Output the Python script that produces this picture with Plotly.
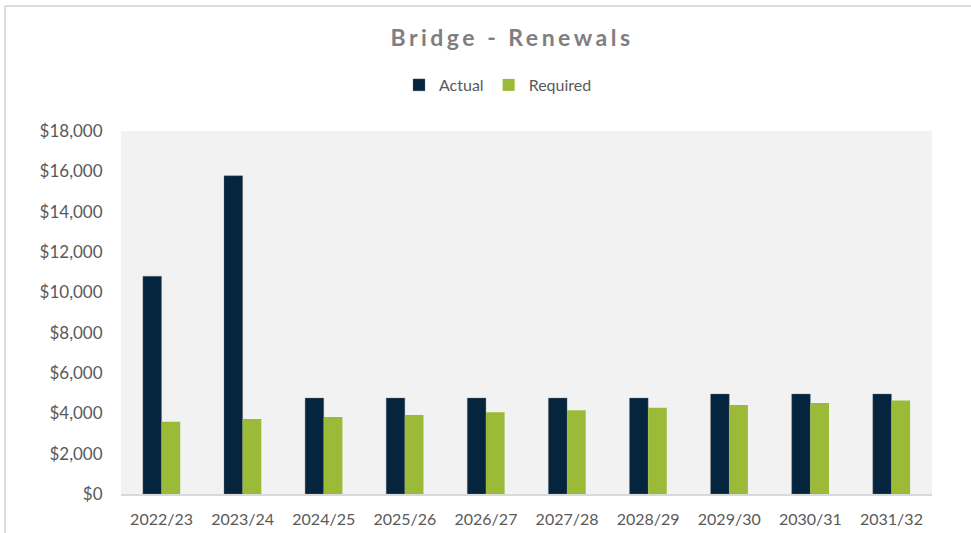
import plotly.graph_objects as go

categories = ["2022/23", "2023/24", "2024/25", "2025/26", "2026/27",
              "2027/28", "2028/29", "2029/30", "2030/31", "2031/32"]
actual = [10800, 15780, 4760, 4760, 4760, 4760, 4760, 4960, 4960, 4960]
required = [3580, 3720, 3820, 3920, 4050, 4150, 4280, 4410, 4510, 4640]
y_ticks = [0, 2000, 4000, 6000, 8000, 10000, 12000, 14000, 16000, 18000]

FONT = "Lato"
TXT = "#595959"
W, H = 971, 533
PL, PR, PT, PB = 121, 932, 131, 494  # plot area in px
PW, PH = PR - PL, PB - PT

def px_x(x):
    return (x - PL) / PW

def px_y(y):
    return (PB - y) / PH

fig = go.Figure()
fig.add_trace(go.Bar(name="Actual", x=categories, y=actual,
                     marker=dict(color="#05243d", line=dict(color="rgba(120,120,120,0.35)", width=1))))
fig.add_trace(go.Bar(name="Required", x=categories, y=required,
                     marker=dict(color="#9bbb38", line=dict(width=0))))

fig.update_layout(
    width=W, height=H,
    margin=dict(l=PL, r=W - PR, t=PT, b=H - PB),
    paper_bgcolor="white",
    plot_bgcolor="#f2f2f2",
    barmode="group", bargap=0.54, bargroupgap=0,
    font=dict(family=FONT, size=16, color=TXT),
    title=dict(text='<b><span style="letter-spacing:3.5px">Bridge - Renewals</span></b>',
               x=512 / W, xanchor="center",
               y=1 - 38 / H, yanchor="middle",
               font=dict(family=FONT, size=23, color="#7f7f7f")),
    legend=dict(orientation="h", x=px_x(399), xanchor="left", y=px_y(85), yanchor="middle",
                font=dict(family=FONT, size=16, color=TXT), itemwidth=30,
                traceorder="normal"),
    showlegend=True,
)
fig.update_xaxes(showgrid=False, showline=True, linecolor="#d9d9d9", linewidth=2,
                 ticks="outside", ticklen=10, tickcolor="rgba(0,0,0,0)", automargin=False,
                 tickfont=dict(family=FONT, size=16, color=TXT))
fig.update_yaxes(range=[0, 18000], tickvals=y_ticks, tickformat="$,",
                 showgrid=False, zeroline=False, showline=False, automargin=False,
                 ticks="outside", ticklen=14, tickcolor="rgba(0,0,0,0)",
                 tickfont=dict(family=FONT, size=17, color=TXT))

# chart frame: top and left edges only
fig.add_shape(type="line", xref="paper", yref="paper",
              x0=px_x(5), x1=px_x(971), y0=px_y(6), y1=px_y(6),
              line=dict(color="#dcdcdc", width=2))
fig.add_shape(type="line", xref="paper", yref="paper",
              x0=px_x(5), x1=px_x(5), y0=px_y(6), y1=px_y(533),
              line=dict(color="#dcdcdc", width=2))

fig.write_html("out.html", config={"displayModeBar": False},
               post_script="document.body.style.margin='0';")
